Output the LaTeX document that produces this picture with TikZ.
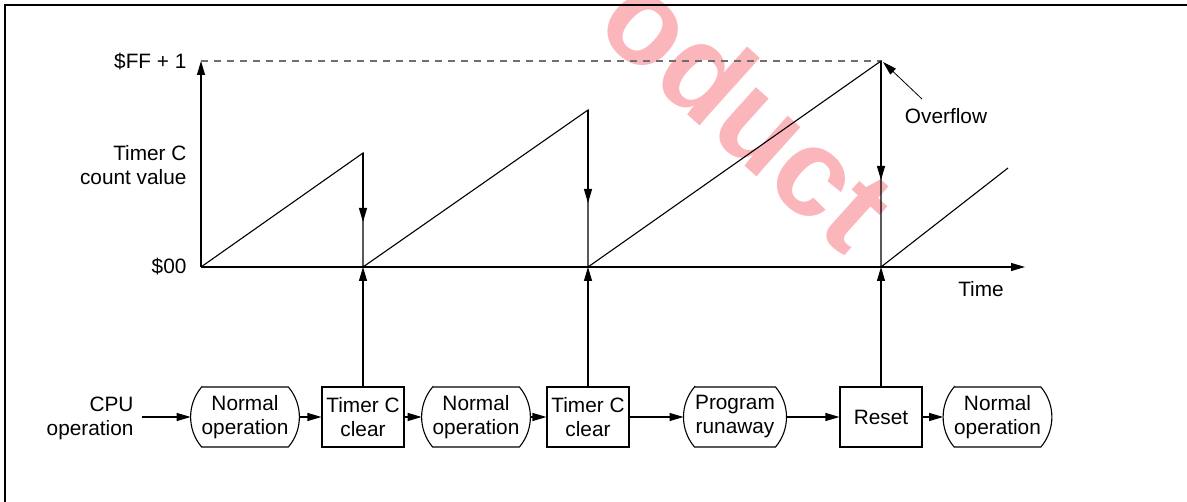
\documentclass[tikz,border=0pt]{standalone}
\usepackage{fontspec}
\setmainfont{Liberation Sans}
\usetikzlibrary{arrows.meta}
\definecolor{wmred}{RGB}{250,182,186}
\definecolor{dashgray}{RGB}{110,110,110}
\begin{document}
\begin{tikzpicture}[x=1pt,y=-1pt,
  line width=1.1pt,
  txt/.style={font=\fontsize{20.8}{24}\selectfont, inner sep=0pt, align=center},
  lbl/.style={txt, align=right, anchor=east},
  arr/.style={-{Triangle[length=14pt,width=8pt]}},
  opbox/.style={txt, minimum width=81pt, minimum height=60pt, outer xsep=11pt, outer ysep=0pt},
  rectbox/.style={txt, draw, minimum width=82pt, minimum height=60pt}]
\useasboundingbox (0,0) rectangle (1187,502);
% watermark
\begin{scope}
  \clip (0,0) rectangle (1187,502);
  \node[rotate=-42, text=wmred, inner sep=0pt, font=\fontsize{125}{125}\selectfont\bfseries] (wm) at (749,110) {oduct};
\end{scope}
% frame
\draw (5,502) -- (5,5) -- (1187,5);
% coordinates
\coordinate (O) at (201,267);
\coordinate (ytop) at (201,61);
\coordinate (xend) at (1025,267);
\coordinate (p1) at (363,153);
\coordinate (p2) at (588,110);
\coordinate (p3) at (881,61);
\coordinate (p4) at (1008,168);
\coordinate (a1) at (363,267);
\coordinate (a2) at (588,267);
\coordinate (a3) at (881,267);
\coordinate (d1) at (363,222);
\coordinate (d2) at (588,203);
\coordinate (d3) at (881,180);
\coordinate (ovs) at (922,99);
\coordinate (ovt) at (883,62);
% axes
\draw[arr] (O) -- (ytop);
\draw[arr] (O) -- (xend);
\draw[dashgray, dash pattern=on 7pt off 6pt] (ytop) -- (p3);
% sawtooth
\draw (O) -- (p1) -- (a1) -- (p2) -- (a2) -- (p3) -- (a3) -- (p4);
\draw[arr] (p1) -- (d1);
\draw[arr] (p2) -- (d2);
\draw[arr] (p3) -- (d3);
\draw[arr, line width=0.8pt] (ovs) -- (ovt);
% labels
\node[lbl] (ff) at (187,62) {\$FF + 1};
\node[lbl] (tcv) at (187,165) {Timer C\\count value};
\node[lbl] (zero) at (187,267) {\$00};
\node[txt] (time) at (981,289) {Time};
\node[txt] (ovf) at (946,116) {Overflow};
\node[lbl] (cpu) at (134,418) {CPU\\operation};
\coordinate (cpuarr) at (142,417);
% flow
\node[opbox] (op1) at (245,417) {Normal\\operation};
\node[rectbox] (t1) at (363,417) {Timer C\\clear};
\node[opbox] (op2) at (476,417) {Normal\\operation};
\node[rectbox] (t2) at (588,417) {Timer C\\clear};
\node[opbox] (run) at (735,417) {Program\\runaway};
\node[rectbox] (rst) at (881,417) {Reset};
\node[opbox] (op3) at (997.5,417) {Normal\\operation};
\foreach \n in {op1,op2,run,op3}{
  \draw ([xshift=11pt]\n.north west) -- ([xshift=-11pt]\n.north east)
    arc[start angle=40.3,end angle=-40.3,radius=46.4pt]
    -- ([xshift=11pt]\n.south west)
    arc[start angle=220.3,end angle=139.7,radius=46.4pt] -- cycle;
}
\draw[arr] (cpuarr) -- (op1.west);
\draw[arr] (op1.east) -- (t1.west);
\draw[arr] (t1.east) -- (op2.west);
\draw[arr] (op2.east) -- (t2.west);
\draw[arr] (t2.east) -- (run.west);
\draw[arr] (run.east) -- (rst.west);
\draw[arr] (rst.east) -- (op3.west);
\draw[arr] (t1.north) -- (a1);
\draw[arr] (t2.north) -- (a2);
\draw[arr] (rst.north) -- (a3);
\end{tikzpicture}
\end{document}
